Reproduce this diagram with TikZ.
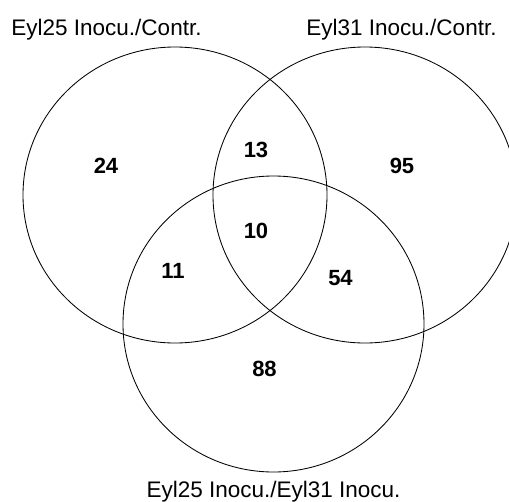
\documentclass[tikz,border=0pt]{standalone}
\usepackage{fontspec}
\setmainfont{Liberation Sans}
\begin{document}
\begin{tikzpicture}[x=1pt,y=-1pt,
  setline/.style={draw=black,line width=0.85pt},
  setlabel/.style={font=\fontsize{22.5}{26}\selectfont,inner sep=0pt,anchor=base},
  count/.style={font=\fontsize{22}{26}\selectfont\bfseries,inner sep=0pt}]
  \useasboundingbox (0,0) rectangle (509,501);
  \clip (0,0) rectangle (509,501);
  % the three sets
  \draw[setline] (175,195) ellipse [x radius=152,y radius=148];
  \draw[setline] (365,195) ellipse [x radius=152,y radius=148];
  \draw[setline] (273.5,324) ellipse [x radius=150.5,y radius=148];
  % set names
  \node[setlabel] (nA) at (106.5,35) {Eyl25 Inocu./Contr.};
  \node[setlabel] (nB) at (401.5,35) {Eyl31 Inocu./Contr.};
  \node[setlabel] (nC) at (273.5,497.5) {Eyl25 Inocu./Eyl31 Inocu.};
  % region counts
  \node[count] (cA)   at (106,165.5) {24};
  \node[count] (cAB)  at (256,149.5) {13};
  \node[count] (cB)   at (402,165.5) {95};
  \node[count] (cABC) at (256,231)   {10};
  \node[count] (cAC)  at (173,270.5) {11};
  \node[count] (cBC)  at (340.5,278) {54};
  \node[count] (cC)   at (264.5,369) {88};
\end{tikzpicture}
\end{document}
